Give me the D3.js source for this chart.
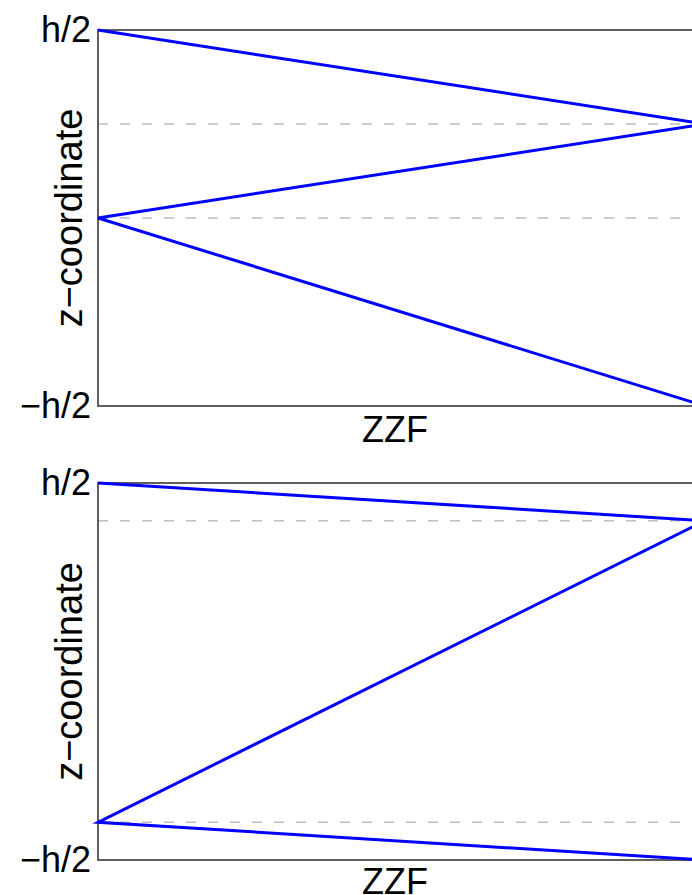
<!DOCTYPE html>
<html>
<head>
<meta charset="utf-8">
<script src="https://cdn.jsdelivr.net/npm/d3@7"></script>
<style>
  body { margin: 0; background: #fff; }
  svg { display: block; }
</style>
</head>
<body>
<div id="chart"></div>
<script>
// data (z in units of h, ZZF normalised 0..1)
const zzf = [0, 1, 0, 1];
const zTop = [0.5, 0.25, 0, -0.5];
const zBottom = [0.5, 0.4, -0.4, -0.5];
const dashTop = [0.25, 0];
const dashBottom = [0.4, -0.4];
const yTickValues = [-0.5, 0.5];
const yTickLabels = ["\u2212h/2", "h/2"];
const xLabel = "ZZF";
const yLabel = "z\u2212coordinate";

const width = 692, height = 895;
const plotLeft = 98, plotRight = 705;
const panels = [
  { top: 30, bottom: 406, z: zTop, dashes: dashTop },
  { top: 483, bottom: 860, z: zBottom, dashes: dashBottom }
];
const fontFamily = "'Liberation Sans', Arial, Helvetica, sans-serif";
const fontSize = 36;

const svg = d3.select("#chart").append("svg")
  .attr("width", width)
  .attr("height", height);

const x = d3.scaleLinear().domain([0, 1]).range([plotLeft, plotRight]);

panels.forEach(p => {
  const y = d3.scaleLinear().domain([-0.5, 0.5]).range([p.bottom, p.top]);
  const g = svg.append("g");

  // dashed helper lines
  g.selectAll(".dash")
    .data(p.dashes).enter()
    .append("line")
    .attr("x1", x(0)).attr("x2", x(1))
    .attr("y1", d => y(d)).attr("y2", d => y(d))
    .attr("stroke", "#bdbdbd")
    .attr("stroke-width", 1.4)
    .attr("stroke-dasharray", "10,12");

  // frame
  g.append("rect")
    .attr("x", x(0)).attr("y", y(0.5))
    .attr("width", x(1) - x(0)).attr("height", y(-0.5) - y(0.5))
    .attr("fill", "none")
    .attr("stroke", "#444")
    .attr("stroke-width", 1.7);

  // zig-zag profile
  const line = d3.line()
    .x((d, i) => x(zzf[i]))
    .y(d => y(d));
  g.append("path")
    .datum(p.z)
    .attr("d", line)
    .attr("fill", "none")
    .attr("stroke", "#0000ff")
    .attr("stroke-width", 3)
    .attr("stroke-linejoin", "miter");

  // y ticks
  const yAxis = d3.axisLeft(y)
    .tickValues(yTickValues)
    .tickFormat((d, i) => yTickLabels[i])
    .tickSize(0)
    .tickPadding(7);
  const ya = g.append("g")
    .attr("transform", `translate(${plotLeft},0)`)
    .call(yAxis);
  ya.select(".domain").remove();
  ya.selectAll("text")
    .attr("font-family", fontFamily)
    .attr("font-size", fontSize)
    .attr("fill", "#000");

  // axis titles
  g.append("text")
    .attr("x", 395)
    .attr("y", Math.min(p.bottom + 36, height - 1))
    .attr("text-anchor", "middle")
    .attr("font-family", fontFamily)
    .attr("font-size", fontSize)
    .text(xLabel);

  g.append("text")
    .attr("transform", `translate(82,${(p.top + p.bottom) / 2}) rotate(-90)`)
    .attr("text-anchor", "middle")
    .attr("font-family", fontFamily)
    .attr("font-size", 38)
    .text(yLabel);
});
</script>
</body>
</html>
